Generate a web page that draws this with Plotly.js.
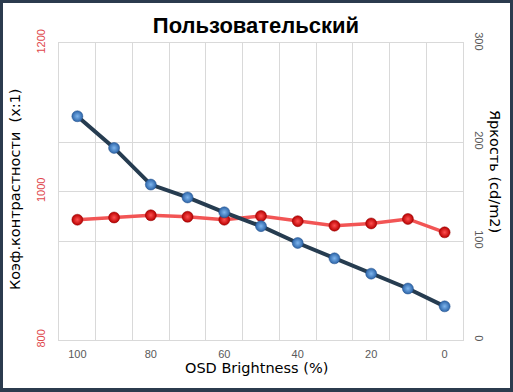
<!DOCTYPE html>
<html>
<head>
<meta charset="utf-8">
<script src="https://cdn.plot.ly/plotly-3.0.1.min.js"></script>
<style>
html,body{margin:0;padding:0;background:#2b3b4e;width:513px;height:392px;overflow:hidden;}
#chart{position:absolute;left:3px;top:3px;width:507px;height:385px;background:#fff;}
</style>
</head>
<body>
<div id="chart"></div>
<script>
// OSD brightness settings (%)
const brightnessPct = [100, 90, 80, 70, 60, 50, 40, 30, 20, 10, 0];
// Contrast ratio (x:1) - left axis
const contrast = [962, 965, 968, 966, 962, 967, 960, 954, 957, 963, 945];
// Luminance (cd/m2) - right axis
const luminance = [226, 194, 157, 144, 129, 115, 98, 82.5, 67, 52, 34];
// Tick labels
const xTicks = [100, 80, 60, 40, 20, 0];
const leftTicks = [800, 1000, 1200];
const rightTicks = [0, 100, 200, 300];

const titleText = 'Пользовательский';
const xTitle = 'OSD Brightness (%)';
const yLeftTitle = 'Коэф.контрастности  (x:1)';
const yRightTitle = 'Яркость (cd/m2)';

const grid = '#d9d9d9';
const tickFont = {family: 'Liberation Sans, Arial, sans-serif', size: 11, color: '#595959'};
const titleFont = {family: 'DejaVu Sans, sans-serif', size: 14.5, color: '#000'};

const traces = [
  {
    x: brightnessPct, y: contrast, yaxis: 'y', type: 'scatter', mode: 'lines+markers',
    line: {color: '#f25555', width: 3.5},
    marker: {size: 11, color: '#b80000', gradient: {type: 'radial', color: '#ff5050'}, line: {width: 0.5, color: '#900000'}},
    hoverinfo: 'skip'
  },
  {
    x: brightnessPct, y: luminance, yaxis: 'y2', type: 'scatter', mode: 'lines+markers',
    line: {color: '#263c50', width: 4},
    marker: {size: 11, color: '#2c64a8', gradient: {type: 'radial', color: '#7fb6ee'}, line: {width: 0.5, color: '#24508a'}},
    hoverinfo: 'skip'
  }
];

const layout = {
  width: 507, height: 385,
  margin: {l: 56, r: 47, t: 40, b: 48},
  paper_bgcolor: '#fff', plot_bgcolor: '#fff',
  showlegend: false,
  title: {
    text: '<b>' + titleText + '</b>',
    font: {family: 'Liberation Sans, Arial, sans-serif', size: 22, color: '#000'},
    xref: 'container', yref: 'container', x: 0.499, y: 0.943, xanchor: 'center', yanchor: 'middle'
  },
  xaxis: {
    range: [105, -5], tickmode: 'array', tickvals: xTicks, ticktext: xTicks.map(String),
    showgrid: false, zeroline: false, ticks: '', tickfont: tickFont,
    showline: true, mirror: true, linecolor: grid, linewidth: 1,
    ticklabelstandoff: 4,
    minor: {tick0: 5, dtick: 10, showgrid: true, gridcolor: grid, gridwidth: 1, ticks: ''}
  },
  yaxis: {
    range: [800, 1200], tickmode: 'array', tickvals: leftTicks, ticktext: leftTicks.map(String),
    showgrid: true, gridcolor: grid, gridwidth: 1, zeroline: false, ticks: '',
    tickangle: -90, tickfont: Object.assign({}, tickFont, {color: '#e0474c'}),
    showline: true, mirror: true, linecolor: grid, linewidth: 1,
    ticklabelstandoff: 9
  },
  yaxis2: {
    range: [0, 300], tickmode: 'array', tickvals: rightTicks, ticktext: rightTicks.map(String),
    overlaying: 'y', side: 'right',
    showgrid: true, gridcolor: grid, gridwidth: 1, zeroline: false, ticks: '',
    tickangle: 90, tickfont: tickFont, ticklabelstandoff: 9
  },
  annotations: [
    {text: xTitle, xref: 'paper', yref: 'paper', x: 0.488, y: -0.093, xanchor: 'center', yanchor: 'middle',
     showarrow: false, font: titleFont},
    {text: yLeftTitle, xref: 'paper', yref: 'paper', x: -0.109, y: 0.508, xanchor: 'center', yanchor: 'middle',
     textangle: -90, showarrow: false, font: titleFont},
    {text: yRightTitle, xref: 'paper', yref: 'paper', x: 1.079, y: 0.566, xanchor: 'center', yanchor: 'middle',
     textangle: 90, showarrow: false, font: titleFont}
  ]
};

Plotly.newPlot('chart', traces, layout, {displayModeBar: false, staticPlot: true});
</script>
</body>
</html>
